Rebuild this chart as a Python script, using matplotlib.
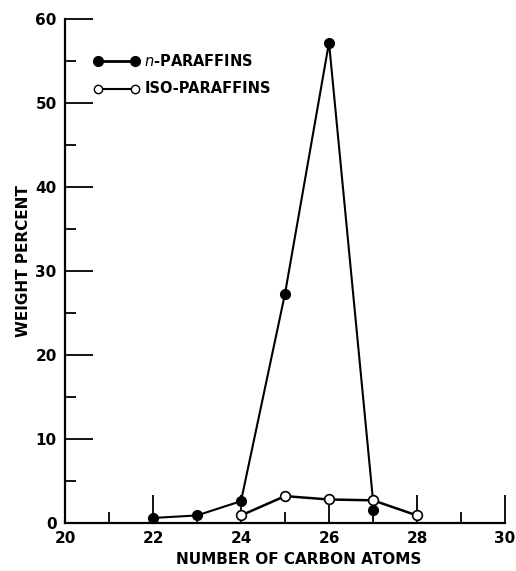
import matplotlib
matplotlib.use("Agg")
import matplotlib.pyplot as plt

plt.rcParams['font.family'] = ['DejaVu Sans']

n_carbons = [22, 23, 24, 25, 26, 27]
n_values = [0.6, 0.9, 2.6, 27.3, 57.2, 1.6]
iso_carbons = [24, 25, 26, 27, 28]
iso_values = [0.9, 3.2, 2.8, 2.7, 0.9]

x_major = [20, 22, 24, 26, 28, 30]
x_minor = [21, 23, 25, 27, 29]
y_major = [0, 10, 20, 30, 40, 50, 60]
y_minor = [5, 15, 25, 35, 45, 55]

fig = plt.figure(figsize=(5.16, 5.71), dpi=100)
ax = fig.add_axes([65/516, 48/571, 440/516, 504/571])
ax.set_xlim(20, 30)
ax.set_ylim(0, 60)

for s in ['top', 'right']:
    ax.spines[s].set_visible(False)
for s in ['left', 'bottom']:
    ax.spines[s].set_linewidth(1.6)
    ax.spines[s].set_color('black')

ax.set_xticks(x_major)
ax.set_xticks(x_minor, minor=True)
ax.set_yticks(y_major)
ax.set_yticks(y_minor, minor=True)
ax.tick_params(which='major', direction='in', length=20, width=1.3, color='black')
ax.tick_params(which='minor', direction='in', length=8, width=1.3, color='black')
ax.tick_params(axis='both', which='major', labelsize=11, pad=6)
for lab in ax.get_xticklabels() + ax.get_yticklabels():
    lab.set_fontweight('bold')

# n-paraffin line: in the original the descent from the peak ends at the iso point at 27
line_x = n_carbons[:5] + [iso_carbons[3]]
line_y = n_values[:5] + [iso_values[3]]
ax.plot(line_x, line_y, color='black', lw=1.5, zorder=2, clip_on=False)
ax.plot(n_carbons, n_values, linestyle='none', marker='o', ms=7,
        mfc='black', mec='black', zorder=4, clip_on=False)
ax.plot(iso_carbons, iso_values, color='black', lw=1.8, marker='o', ms=7,
        mfc='white', mec='black', mew=1.2, zorder=3, clip_on=False)

# legend drawn manually in axes coordinates
ax.plot([0.075, 0.16], [0.917, 0.917], transform=ax.transAxes, color='black',
        lw=2, marker='o', ms=7, mfc='black', mec='black', clip_on=False)
ax.plot([0.075, 0.16], [0.862, 0.862], transform=ax.transAxes, color='black',
        lw=1.5, marker='o', ms=6, mfc='white', mec='black', clip_on=False)
ax.text(0.18, 0.917, r'$\it{n}$' + '-PARAFFINS', transform=ax.transAxes,
        fontsize=10.5, fontweight='bold', va='center', ha='left')
ax.text(0.18, 0.862, 'ISO-PARAFFINS', transform=ax.transAxes,
        fontsize=10.5, fontweight='bold', va='center', ha='left')

ax.set_xlabel('NUMBER OF CARBON ATOMS', fontsize=11, fontweight='bold', va='center')
ax.set_ylabel('WEIGHT PERCENT', fontsize=11, fontweight='bold', va='center')
ax.xaxis.set_label_coords(0.53, -0.073)
ax.yaxis.set_label_coords(-0.095, 0.52)

fig.savefig('out.png', dpi=100)
